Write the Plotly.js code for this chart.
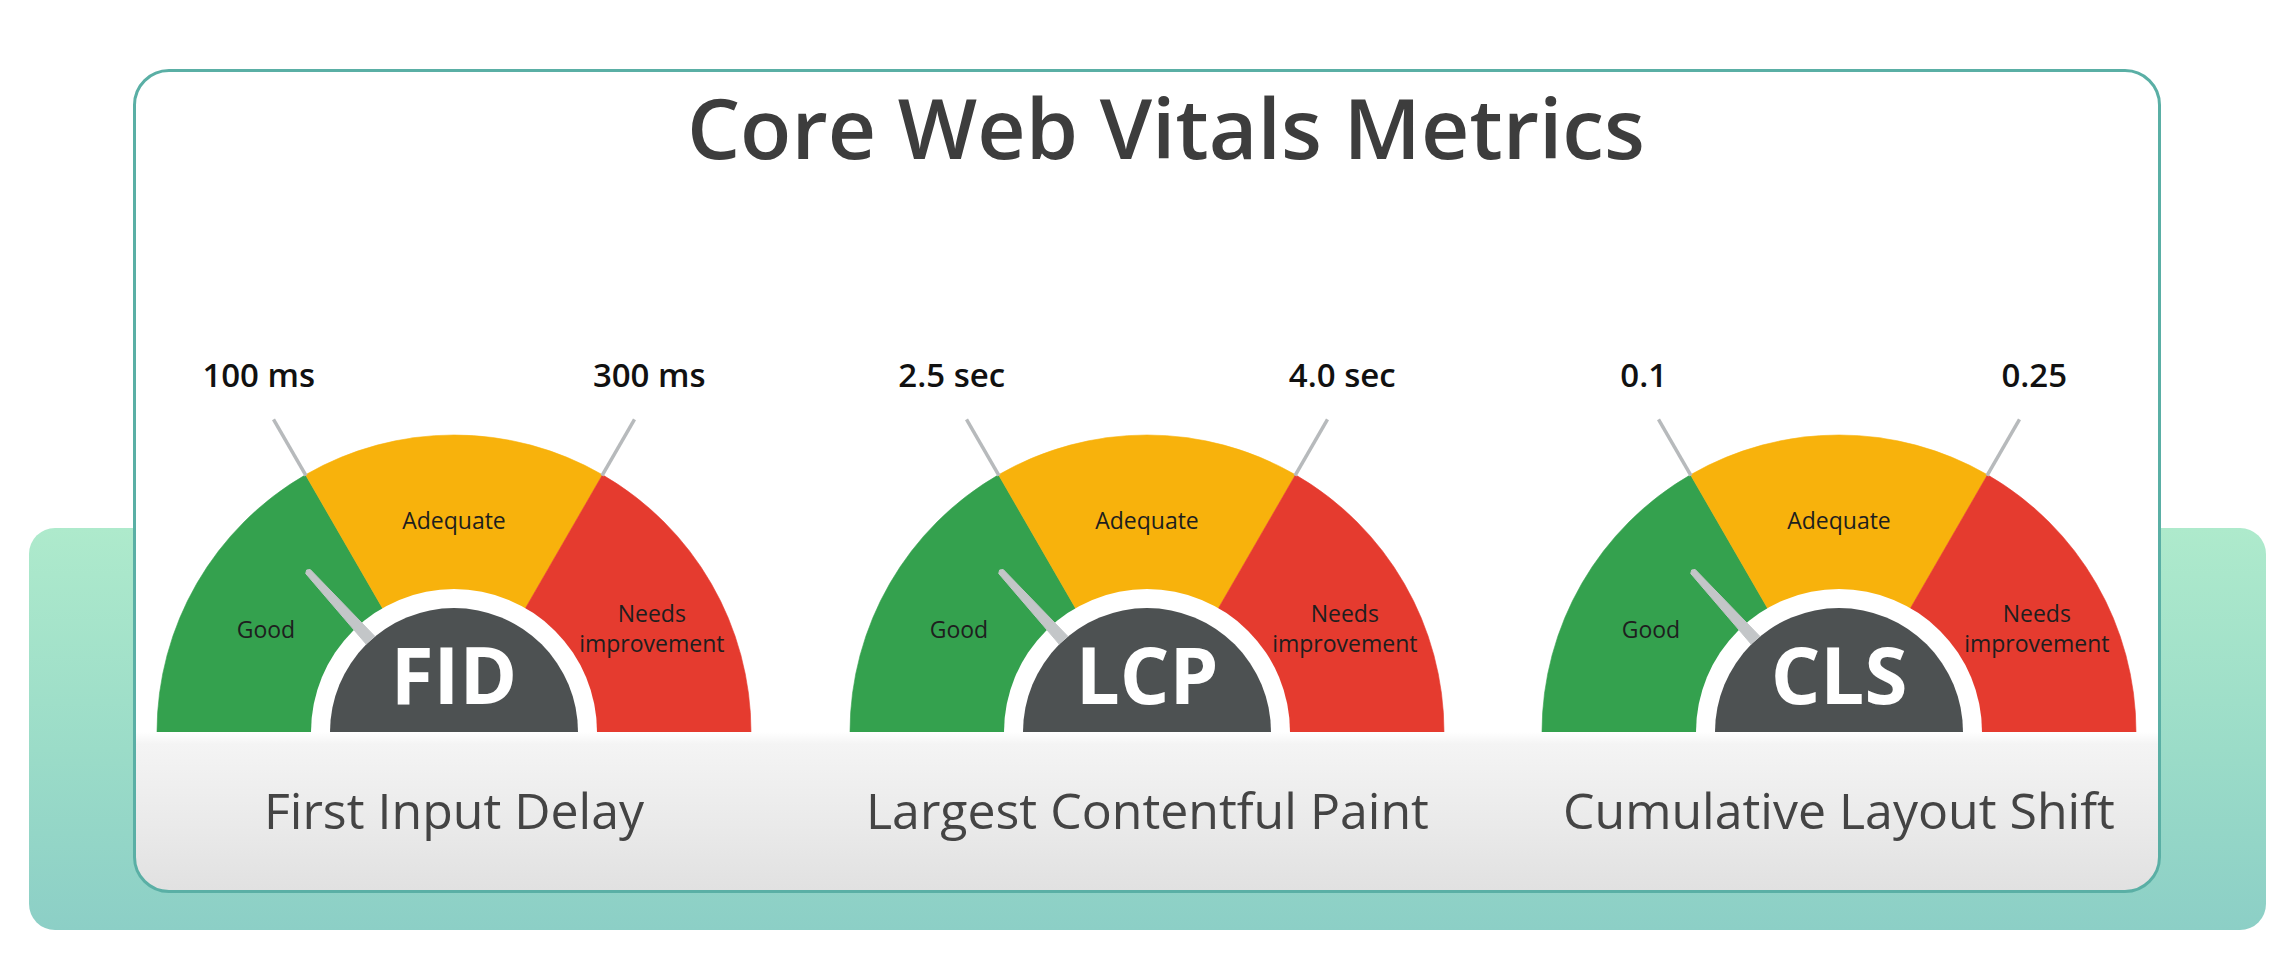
<!DOCTYPE html>
<html>
<head>
<meta charset="utf-8">
<script src="https://cdn.plot.ly/plotly-3.0.1.min.js"></script>
<style>
  html, body { margin: 0; padding: 0; background: #ffffff; }
  #wrap { position: relative; width: 2296px; height: 959px; overflow: hidden; }
  #teal { position: absolute; left: 29px; top: 528px; width: 2237px; height: 402px;
          border-radius: 26px; background: linear-gradient(to bottom, #aeeacc 0%, #9bdcc8 55%, #8ccfc6 100%); }
  #card { position: absolute; left: 133px; top: 69px; width: 2022px; height: 818px;
          border: 3px solid #5aafa5; border-radius: 36px;
          background: linear-gradient(to bottom, #ffffff 0px, #ffffff 660px, #f4f4f4 672px, #e9e9e9 760px, #e1e1e1 818px); }
  #chart { position: absolute; left: 0; top: 0; width: 2296px; height: 959px; }
</style>
</head>
<body>
<div id="wrap">
  <div id="teal"></div>
  <div id="card"></div>
  <div id="chart"></div>
</div>
<script>
// ---------------- data ----------------
const chartTitle = "Core Web Vitals Metrics";
const metricCodes = ["FID", "LCP", "CLS"];
const metricNames = ["First Input Delay", "Largest Contentful Paint", "Cumulative Layout Shift"];
const lowThresholds = ["100 ms", "2.5 sec", "0.1"];
const highThresholds = ["300 ms", "4.0 sec", "0.25"];
const bandNames = ["Good", "Adequate", "Needs<br>improvement"];
const bandShares = [1, 1, 1];              // each band covers a third of the dial
const needleValues = [0.265, 0.265, 0.265]; // needle position as a fraction of the dial (left = 0)

// ---------------- style ----------------
const bandColors = ["#34a14e", "#f8b20c", "#e53b2f"];
const W = 2296, H = 959;
const centersX = [454, 1147, 1839];
const CY = 732;
const RANGE = 420, R_OUT = 297, R_RING = 143, R_HUB = 124, R_TICK = 361;
const R_NEEDLE = 217, R_THR_LABEL = 404, R_HUB_TEXT = 48;
const bandLabelR = [213, 209, 222];

// ---------------- build ----------------
const total = bandShares.reduce((a, b) => a + b, 0);
const bounds = [180];
let cum = 0;
bandShares.forEach(s => { cum += s; bounds.push(180 - 180 * cum / total); });
const mids = bandShares.map((s, k) => (bounds[k] + bounds[k + 1]) / 2);
const widths = bandShares.map(s => 180 * s / total);

const data = [];
const layout = {
  width: W, height: H,
  margin: {l: 0, r: 0, t: 0, b: 0},
  paper_bgcolor: "rgba(0,0,0,0)",
  plot_bgcolor: "rgba(0,0,0,0)",
  showlegend: false,
  title: {
    text: chartTitle, x: 0.5078, xanchor: "center", y: 1 - 130 / H, yanchor: "middle", yref: "container",
    font: {family: "Open Sans", size: 84, color: "#3d3d3d", weight: 600}
  },
  annotations: [],
  font: {family: "Open Sans"}
};

metricCodes.forEach((code, i) => {
  const pid = i === 0 ? "polar" : "polar" + (i + 1);
  const cx = centersX[i];
  layout[pid] = {
    domain: {x: [(cx - RANGE) / W, (cx + RANGE) / W], y: [(H - CY) / H, (H - CY + RANGE) / H]},
    sector: [0, 180],
    hole: 0,
    bgcolor: "rgba(0,0,0,0)",
    barmode: "overlay",
    radialaxis: {range: [0, RANGE], visible: false, showgrid: false},
    angularaxis: {visible: false, showgrid: false, rotation: 0, direction: "counterclockwise"}
  };
  // coloured bands
  data.push({
    type: "barpolar", subplot: pid,
    r: bandShares.map(() => R_OUT), theta: mids, width: widths,
    marker: {color: bandColors, line: {color: bandColors, width: 0.6}},
    hoverinfo: "skip"
  });
  // threshold tick lines
  const b1 = bounds[1], b2 = bounds[2];
  data.push({
    type: "scatterpolar", subplot: pid, mode: "lines",
    r: [R_OUT - 1, R_TICK, null, R_OUT - 1, R_TICK],
    theta: [b1, b1, null, b2, b2],
    line: {color: "#b7babc", width: 3.5},
    hoverinfo: "skip"
  });
  // white ring
  data.push({
    type: "barpolar", subplot: pid,
    r: [R_RING], theta: [90], width: [180],
    marker: {color: "#ffffff", line: {width: 0}},
    hoverinfo: "skip"
  });
  // needle
  const na = 180 - 180 * needleValues[i];
  data.push({
    type: "scatterpolar", subplot: pid, mode: "lines", fill: "toself",
    r: [R_HUB, R_NEEDLE, R_NEEDLE + 2, R_NEEDLE, R_HUB],
    theta: [na - 2.7, na - 0.8, na, na + 0.8, na + 2.7],
    fillcolor: "#c3c6c8", line: {color: "#c3c6c8", width: 1},
    hoverinfo: "skip"
  });
  // dark hub
  data.push({
    type: "barpolar", subplot: pid,
    r: [R_HUB], theta: [90], width: [180],
    marker: {color: "#4d5152", line: {width: 0}},
    hoverinfo: "skip"
  });
  // band labels
  data.push({
    type: "scatterpolar", subplot: pid, mode: "text",
    r: bandLabelR, theta: mids.map((m, k) => m + (k === 0 ? 2 : (k === 2 ? -3 : 0))),
    text: bandNames, textposition: "middle center",
    textfont: {family: "Open Sans", size: 23, color: "#1e1e1e"},
    cliponaxis: false, hoverinfo: "skip"
  });
  // threshold labels
  data.push({
    type: "scatterpolar", subplot: pid, mode: "text",
    r: [R_THR_LABEL, R_THR_LABEL], theta: [b1 - 1.1, b2 + 1.1],
    text: [lowThresholds[i], highThresholds[i]], textposition: "middle center",
    textfont: {family: "Open Sans", size: 33, color: "#111111", weight: 600},
    cliponaxis: false, hoverinfo: "skip"
  });
  // hub text
  data.push({
    type: "scatterpolar", subplot: pid, mode: "text",
    r: [R_HUB_TEXT], theta: [90], text: [code], textposition: "middle center",
    textfont: {family: "Open Sans", size: 78, color: "#ffffff", weight: 700},
    cliponaxis: false, hoverinfo: "skip"
  });
  // metric name
  layout.annotations.push({
    xref: "paper", yref: "paper", x: cx / W, y: 1 - 810 / H,
    xanchor: "center", yanchor: "middle", showarrow: false,
    text: metricNames[i],
    font: {family: "Open Sans", size: 50, color: "#444444"}
  });
});

Plotly.newPlot("chart", data, layout, {displayModeBar: false, staticPlot: true});
</script>
</body>
</html>
